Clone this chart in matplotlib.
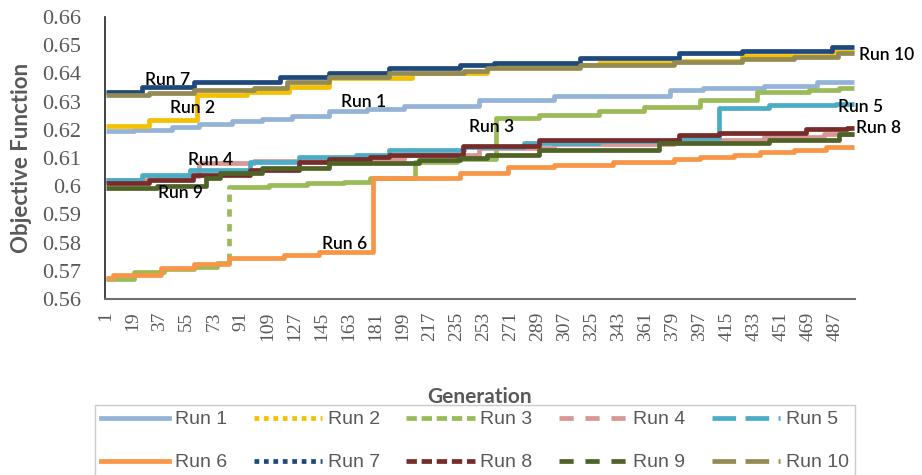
import matplotlib.pyplot as plt
from matplotlib.lines import Line2D

plt.rcParams["font.family"] = "serif"
plt.rcParams["font.serif"] = ["Liberation Serif", "DejaVu Serif"]

# ---------------------------
# data (step breakpoints: generation -> objective value)
# ---------------------------
runs = ["Run 1", "Run 2", "Run 3", "Run 4", "Run 5",
        "Run 6", "Run 7", "Run 8", "Run 9", "Run 10"]

run1_gen = [1, 20, 45, 63, 85, 105, 125, 150, 175, 200, 250, 300, 377, 399, 440, 475, 500]
run1_val = [0.6195, 0.620, 0.621, 0.622, 0.623, 0.624, 0.625, 0.6265, 0.6275, 0.6285,
            0.6307, 0.632, 0.634, 0.6348, 0.6355, 0.6368, 0.6368]

run2_gen = [1, 30, 62, 95, 123, 150, 205, 255, 295, 330, 380, 425, 485, 500]
run2_val = [0.6213, 0.6235, 0.6322, 0.6335, 0.6352, 0.6383, 0.640, 0.6425, 0.643,
            0.6438, 0.6445, 0.6462, 0.6475, 0.6475]

run3_gen = [1, 20, 40, 60, 75, 83, 110, 135, 160, 177, 207, 235, 261, 290, 330, 360,
            397, 435, 470, 490, 500]
run3_val = [0.567, 0.5695, 0.5705, 0.5715, 0.5728, 0.5997, 0.6005, 0.601, 0.6015, 0.6028,
            0.6085, 0.6095, 0.6242, 0.6252, 0.6265, 0.628, 0.6305, 0.6333, 0.634, 0.6348,
            0.6348]

run4_gen = [1, 30, 63, 100, 150, 200, 250, 300, 380, 440, 480, 500]
run4_val = [0.6022, 0.6035, 0.6082, 0.609, 0.6098, 0.611, 0.6135, 0.615, 0.6165, 0.6175,
            0.6185, 0.6185]

run5_gen = [1, 25, 57, 97, 130, 168, 190, 240, 280, 330, 383, 410, 443, 488, 500]
run5_val = [0.6022, 0.604, 0.6057, 0.6086, 0.6104, 0.611, 0.6128, 0.614, 0.6153, 0.616,
            0.617, 0.6277, 0.6288, 0.6293, 0.6293]

run6_gen = [1, 6, 38, 60, 83, 120, 143, 179, 237, 269, 300, 339, 380, 397, 420, 437,
            460, 481, 500]
run6_val = [0.5674, 0.5685, 0.571, 0.5725, 0.5745, 0.5755, 0.5767, 0.6029, 0.6047, 0.6068,
            0.6075, 0.6086, 0.6095, 0.6104, 0.611, 0.6121, 0.613, 0.6139, 0.6139]

run7_gen = [1, 25, 60, 117, 150, 190, 237, 260, 317, 383, 425, 485, 500]
run7_val = [0.6334, 0.6352, 0.637, 0.6387, 0.640, 0.6418, 0.643, 0.6437, 0.6455, 0.6472,
            0.648, 0.6494, 0.6494]

run8_gen = [1, 30, 59, 97, 130, 150, 177, 190, 239, 290, 383, 410, 468, 495, 500]
run8_val = [0.601, 0.6022, 0.604, 0.6057, 0.6086, 0.6095, 0.6104, 0.611, 0.6142, 0.6164,
            0.618, 0.619, 0.6203, 0.6207, 0.6207]

run9_gen = [1, 35, 68, 77, 105, 150, 210, 237, 255, 290, 370, 443, 490, 500]
run9_val = [0.5994, 0.6001, 0.6029, 0.6047, 0.6065, 0.6082, 0.6093, 0.610, 0.611, 0.6128,
            0.6153, 0.6164, 0.6185, 0.6185]

run10_gen = [1, 30, 60, 100, 122, 150, 190, 240, 255, 317, 380, 425, 460, 489, 500]
run10_val = [0.6323, 0.633, 0.6341, 0.635, 0.637, 0.6387, 0.640, 0.641, 0.6418, 0.643,
             0.644, 0.645, 0.6458, 0.6472, 0.6472]

gens = [run1_gen, run2_gen, run3_gen, run4_gen, run5_gen,
        run6_gen, run7_gen, run8_gen, run9_gen, run10_gen]
vals = [run1_val, run2_val, run3_val, run4_val, run5_val,
        run6_val, run7_val, run8_val, run9_val, run10_val]

x_ticks = list(range(1, 501, 18))
y_ticks = [0.56, 0.57, 0.58, 0.59, 0.60, 0.61, 0.62, 0.63, 0.64, 0.65, 0.66]
y_ticklabels = ["0.56", "0.57", "0.58", "0.59", "0.6", "0.61", "0.62",
                "0.63", "0.64", "0.65", "0.66"]

# in-chart labels (generation, value, horizontal alignment)
label_pos = {
    "Run 1": (173, 0.6300, "center"),
    "Run 2": (59, 0.6277, "center"),
    "Run 3": (258, 0.6210, "center"),
    "Run 4": (71, 0.6093, "center"),
    "Run 5": (489, 0.6281, "left"),
    "Run 6": (160, 0.5795, "center"),
    "Run 7": (42, 0.6377, "center"),
    "Run 8": (501, 0.6206, "left"),
    "Run 9": (51, 0.5976, "center"),
    "Run 10": (503, 0.6465, "left"),
}

# ---------------------------
# style
# ---------------------------
colors = ["#95B3D7", "#F5C000", "#9BBB59", "#D99694", "#4BACC6",
          "#F79646", "#1F497D", "#772C2A", "#4F6228", "#948A54"]
legend_styles = ["-", (0, (1, 1)), (0, (2.2, 1)), (0, (3, 2.5)), (0, (5, 2)),
                 "-", (0, (1, 1)), (0, (2.2, 1)), (0, (3, 2.5)), (0, (5, 2))]

fig = plt.figure(figsize=(9.22, 4.75), dpi=100)
ax = fig.add_axes([105 / 922, 1 - 299 / 475, 750 / 922, 282 / 475])

for g, v, c in zip(gens, vals, colors):
    ax.step(g, v, where="post", color=c, linewidth=3.4, solid_capstyle="butt")

# the big jump of Run 3 shows as a dashed vertical in the original
j3 = 5
ax.vlines(run3_gen[j3], run3_val[j3 - 1] + 0.0012, run3_val[j3] - 0.0008, color="white",
          linewidth=3.8, linestyles=(1.5, (1.4, 1.4)), zorder=3)

for name, (gx, gy, ha) in label_pos.items():
    ax.text(gx, gy, name, ha=ha, va="center", fontsize=12.5, family="Lato",
            fontweight="semibold", color="black")

ax.set_xlim(0.5, 500.5)
ax.set_ylim(0.56, 0.66)
ax.set_xticks(x_ticks)
ax.set_xticklabels([str(t) for t in x_ticks], rotation=90)
ax.set_yticks(y_ticks)
ax.set_yticklabels(y_ticklabels)
ax.tick_params(axis="both", length=0, labelcolor="#595959")
ax.tick_params(axis="y", pad=17, labelsize=16)
ax.tick_params(axis="x", pad=9, labelsize=14)

for s in ["top", "right"]:
    ax.spines[s].set_visible(False)
ax.spines["left"].set_color("#222222")
ax.spines["left"].set_linewidth(1.2)
ax.spines["bottom"].set_color("#707070")
ax.spines["bottom"].set_linewidth(1.5)

ax.set_ylabel("Objective Function", family="Lato", fontweight="bold", fontsize=16,
              color="#595959")
ax.yaxis.set_label_coords(-73 / 750, 0.5)

fig.text(480 / 922, 1 - 397 / 475, "Generation", ha="center", va="center",
         family="Lato", fontweight="bold", fontsize=15, color="#595959", zorder=5)

handles = [Line2D([], [], color=c, linestyle=ls, linewidth=3.4)
           for c, ls in zip(colors, legend_styles)]
# legend fills column by column, so interleave the two rows
order = [0, 5, 1, 6, 2, 7, 3, 8, 4, 9]
leg = fig.legend([handles[i] for i in order], [runs[i] for i in order],
                 loc="upper left", ncol=5, mode="expand",
                 bbox_to_anchor=(95 / 922, 1 - 405 / 475, 760 / 922, 0),
                 prop={"family": "Liberation Sans", "size": 14}, labelcolor="#595959",
                 frameon=True, fancybox=False, edgecolor="#BFBFBF",
                 handlelength=3.5, handletextpad=0.3, labelspacing=1.3,
                 borderpad=0.3, borderaxespad=0)
leg.get_frame().set_linewidth(1.0)

fig.savefig("out.png", dpi=100)
